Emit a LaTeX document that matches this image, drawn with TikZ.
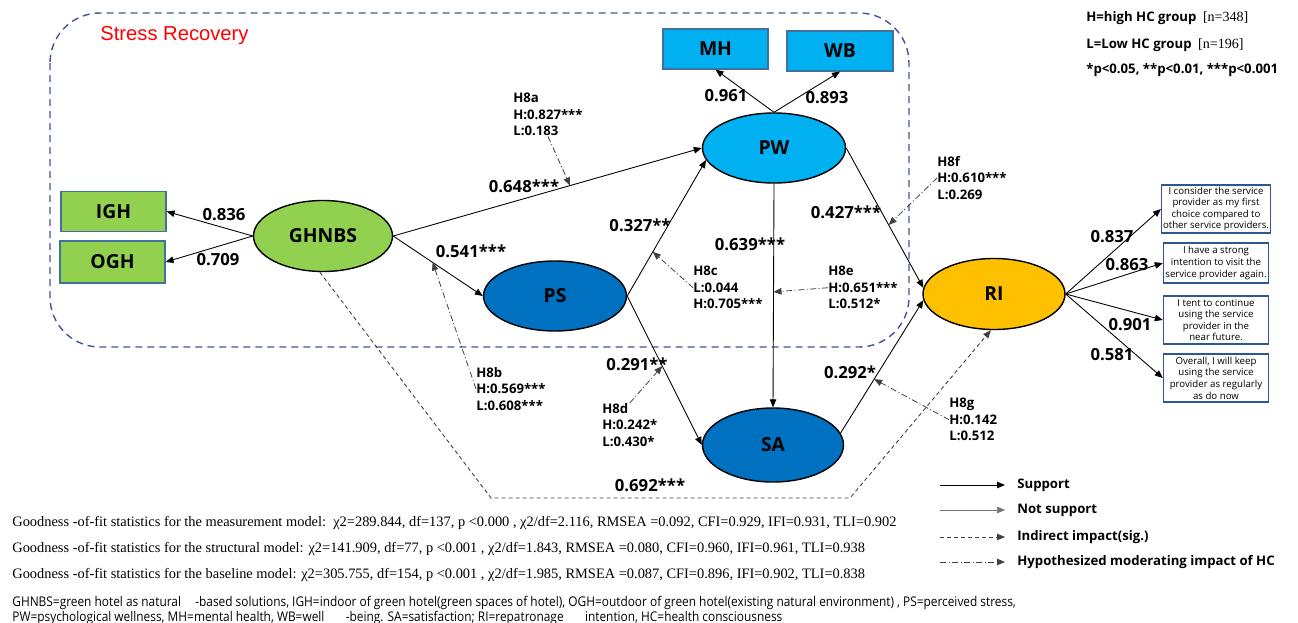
\documentclass[tikz,border=0pt]{standalone}
\usepackage{fontspec}
\setmainfont{Liberation Serif}
\setsansfont{Open Sans}
\newfontfamily\arialfont{Liberation Sans}
\usepackage{tikz}
\usetikzlibrary{arrows.meta,shapes.geometric}

\definecolor{ghgreen}{RGB}{146,208,80}
\definecolor{pwblue}{RGB}{0,176,240}
\definecolor{psblue}{RGB}{0,112,192}
\definecolor{riyellow}{RGB}{255,192,0}
\definecolor{edgeblue}{RGB}{65,113,156}
\definecolor{recovblue}{RGB}{68,84,150}
\definecolor{itemblue}{RGB}{47,85,151}

\tikzset{
  latent/.style={ellipse, draw=black, line width=0.8pt, minimum width=28.6mm, minimum height=14mm, inner sep=0pt, font=\fontsize{11}{13}\selectfont\sffamily\bfseries},
  indic/.style={rectangle, draw=edgeblue, line width=0.7pt, minimum width=21mm, minimum height=8mm, inner sep=0pt, font=\fontsize{11}{13}\selectfont\sffamily\bfseries},
  itembox/.style={rectangle, draw=itemblue, line width=0.8pt, fill=white, minimum width=21mm, inner sep=0.8pt, align=center, font=\fontsize{5.5}{6.6}\selectfont\sffamily},
  coef/.style={inner sep=0pt, font=\fontsize{9.5}{11}\selectfont\sffamily\bfseries},
  hyp/.style={anchor=north west, align=left, inner sep=0pt, font=\fontsize{7.5}{9.4}\selectfont\sffamily\bfseries},
  legtext/.style={anchor=west, inner sep=0pt, font=\fontsize{7.5}{9}\selectfont\sffamily\bfseries},
  path/.style={-{Triangle[length=1.6mm,width=1.3mm]}, line width=0.5pt},
  weakpath/.style={-{Triangle[length=1.6mm,width=1.3mm]}, line width=0.4pt, draw=black!55},
  indir/.style={-{Triangle[length=1.6mm,width=1.3mm]}, line width=0.5pt, draw=black!75, dash pattern=on 0.8mm off 0.6mm},
  moder/.style={-{Triangle[length=1.6mm,width=1.3mm]}, line width=0.45pt, draw=black!75, dash pattern=on 1.2mm off 0.5mm on 0.2mm off 0.5mm},
}

\begin{document}
\begin{tikzpicture}[x=0.2mm,y=-0.2mm]
  \useasboundingbox (0,0) rectangle (1298,623);

  % stress recovery frame
  \draw[recovblue, line width=0.8pt, dash pattern=on 1.4mm off 1mm, rounded corners=10mm] (50,13) rectangle (909,347);
  \node[anchor=west, inner sep=0pt, red, font=\fontsize{11.5}{13}\selectfont\arialfont] (recov) at (100,36) {Stress Recovery};

  % constructs
  \node[latent, fill=ghgreen, minimum width=27.8mm, minimum height=14.2mm] (GHNBS) at (323,236) {GHNBS};
  \node[latent, fill=pwblue] (PW) at (774,148) {PW};
  \node[latent, fill=psblue] (PS) at (555,296) {PS};
  \node[latent, fill=psblue, minimum width=28.2mm, minimum height=14.8mm] (SA) at (773,445) {SA};
  \node[latent, fill=riyellow, minimum width=28.4mm, minimum height=14.2mm] (RI) at (994,294) {RI};

  \node[indic, fill=ghgreen] (IGH) at (113.5,211.5) {IGH};
  \node[indic, fill=ghgreen, minimum height=8.4mm] (OGH) at (112.5,262) {OGH};
  \node[indic, fill=pwblue] (MH) at (715.5,49) {MH};
  \node[indic, fill=pwblue, minimum width=21.2mm] (WB) at (840,51) {WB};

  \node[itembox, minimum height=9.6mm] (it1) at (1216,209) {I consider the service\\provider as my first\\choice compared to\\other service providers.};
  \node[itembox, minimum height=8mm] (it2) at (1216,263) {I have a strong\\intention to visit the\\service provider again.};
  \node[itembox, minimum height=9.6mm] (it3) at (1216,320) {I tent to continue\\using the service\\provider in the\\near future.};
  \node[itembox, minimum height=9.6mm] (it4) at (1216,378) {Overall, I will keep\\using the service\\provider as regularly\\as do now};

  % paths
  \draw[path] (GHNBS.west) -- (IGH.east);
  \draw[path] (GHNBS.west) -- (OGH.east);
  \draw[path] (GHNBS.east) -- (PW.west) coordinate[pos=0.573] (mA);
  \draw[path] (GHNBS.east) -- (PS.west) coordinate[pos=0.44] (mB);
  \draw[path] (PS.east) -- (PW.190) coordinate[pos=0.325] (mC);
  \draw[path] (PS.east) -- (SA.west) coordinate[pos=0.47] (mD);
  \draw[path] (PW.north) -- (MH.south);
  \draw[path] (PW.north) -- (WB.south);
  \draw[path] (PW.south) -- (SA.north) coordinate[pos=0.484] (mE);
  \draw[path] (PW.east) -- (RI.175) coordinate[pos=0.55] (mF);
  \draw[path] (SA.10) -- (RI.185) coordinate[pos=0.406] (mG);
  \draw[path] (RI.east) -- (it1.west);
  \draw[path] (RI.east) -- (it2.west);
  \draw[path] (RI.east) -- (it3.west);
  \draw[path] (RI.east) -- (it4.west);

  % indirect effect
  \coordinate (ibendA) at (491,498);
  \coordinate (ibendB) at (850,498);
  \draw[indir] (GHNBS.-95) -- (ibendA) -- (ibendB) -- (RI.-95);

  % coefficients
  \node[coef] (c1) at (224,215) {0.836};
  \node[coef] (c2) at (218,260) {0.709};
  \node[coef] (c3) at (524,186) {0.648***};
  \node[coef] (c4) at (471,251) {0.541***};
  \node[coef] (c5) at (640,225) {0.327**};
  \node[coef] (c6) at (750,244) {0.639***};
  \node[coef] (c7) at (726,96) {0.961};
  \node[coef] (c8) at (827,98) {0.893};
  \node[coef] (c9) at (846,212) {0.427***};
  \node[coef] (c10) at (637,364) {0.291**};
  \node[coef] (c11) at (850,372) {0.292*};
  \node[coef] (c12) at (650,485) {0.692***};
  \node[coef] (c13) at (1112,237) {0.837};
  \node[coef] (c14) at (1127,265) {0.863};
  \node[coef] (c15) at (1130,325) {0.901};
  \node[coef] (c16) at (1112,355) {0.581};

  % moderating effects of HC
  \node[hyp] (h8a) at (513,93) {H8a\\H:0.827***\\L:0.183};
  \node[hyp] (h8b) at (476,367) {H8b\\H:0.569***\\L:0.608***};
  \node[hyp] (h8c) at (693,266) {H8c\\L:0.044\\H:0.705***};
  \node[hyp] (h8d) at (602,403) {H8d\\H:0.242*\\L:0.430*};
  \node[hyp] (h8e) at (828,266) {H8e\\H:0.651***\\L:0.512*};
  \node[hyp] (h8f) at (937,156) {H8f\\H:0.610***\\L:0.269};
  \node[hyp] (h8g) at (949,398) {H8g\\H:0.142\\L:0.512};
  \draw[moder] (h8a.south) -- (mA);
  \draw[moder] (h8b.west) -- (mB);
  \draw[moder] (h8c.west) -- (mC);
  \draw[moder] (h8d.north) -- (mD);
  \draw[moder] (h8e.west) -- (mE);
  \draw[moder] (h8f.west) -- (mF);
  \draw[moder] (h8g.west) -- (mG);

  % group legend
  \node[legtext] (grpH) at (1086,18) {H=high HC group\enspace{\rmfamily\mdseries\fontsize{8}{9}\selectfont[n=348]}};
  \node[legtext] (grpL) at (1086,45) {L=Low HC group\enspace{\rmfamily\mdseries\fontsize{8}{9}\selectfont[n=196]}};
  \node[legtext] (sig) at (1086,70) {*p<0.05, **p<0.01, ***p<0.001};

  % line legend
  \coordinate (lsA) at (940,485);
  \coordinate (lsB) at (940,510);
  \coordinate (lsC) at (940,537);
  \coordinate (lsD) at (940,562);
  \node[legtext] (lgA) at (1017,485) {Support};
  \node[legtext] (lgB) at (1017,510) {Not support};
  \node[legtext] (lgC) at (1017,537) {Indirect impact(sig.)};
  \node[legtext] (lgD) at (1017,562) {Hypothesized moderating impact of HC};
  \draw[path] (lsA) -- ([xshift=-2.4mm]lgA.west);
  \draw[weakpath] (lsB) -- ([xshift=-2.4mm]lgB.west);
  \draw[indir] (lsC) -- ([xshift=-2.4mm]lgC.west);
  \draw[moder] (lsD) -- ([xshift=-2.4mm]lgD.west);

  % fit statistics
  \node[anchor=west, inner sep=0pt, font=\fontsize{8.2}{9}\selectfont\rmfamily] (gof1) at (12,523) {Goodness -of-fit statistics for the measurement model:\ \ χ2=289.844, df=137, p <0.000 , χ2/df=2.116, RMSEA =0.092, CFI=0.929, IFI=0.931, TLI=0.902};
  \node[anchor=west, inner sep=0pt, font=\fontsize{8.2}{9}\selectfont\rmfamily] (gof2) at (12,549) {Goodness -of-fit statistics for the structural model: χ2=141.909, df=77, p <0.001 , χ2/df=1.843, RMSEA =0.080, CFI=0.960, IFI=0.961, TLI=0.938};
  \node[anchor=west, inner sep=0pt, font=\fontsize{8.2}{9}\selectfont\rmfamily] (gof3) at (12,575) {Goodness -of-fit statistics for the baseline model: χ2=305.755, df=154, p <0.001 , χ2/df=1.985, RMSEA =0.087, CFI=0.896, IFI=0.902, TLI=0.838};
  \node[anchor=north west, align=left, inner sep=0pt, font=\fontsize{7.6}{7.2}\selectfont\sffamily] (abbr) at (12,596) {\scalebox{0.89}[1]{GHNBS=green hotel as natural\hspace{1.2em}-based solutions, IGH=indoor of green hotel(green spaces of hotel), OGH=outdoor of green hotel(existing natural environment) , PS=perceived stress,}\\\scalebox{0.89}[1]{PW=psychological wellness, MH=mental health, WB=well\hspace{1.8em}-being. SA=satisfaction; RI=repatronage\hspace{1.8em}intention, HC=health consciousness}};
\end{tikzpicture}
\end{document}
